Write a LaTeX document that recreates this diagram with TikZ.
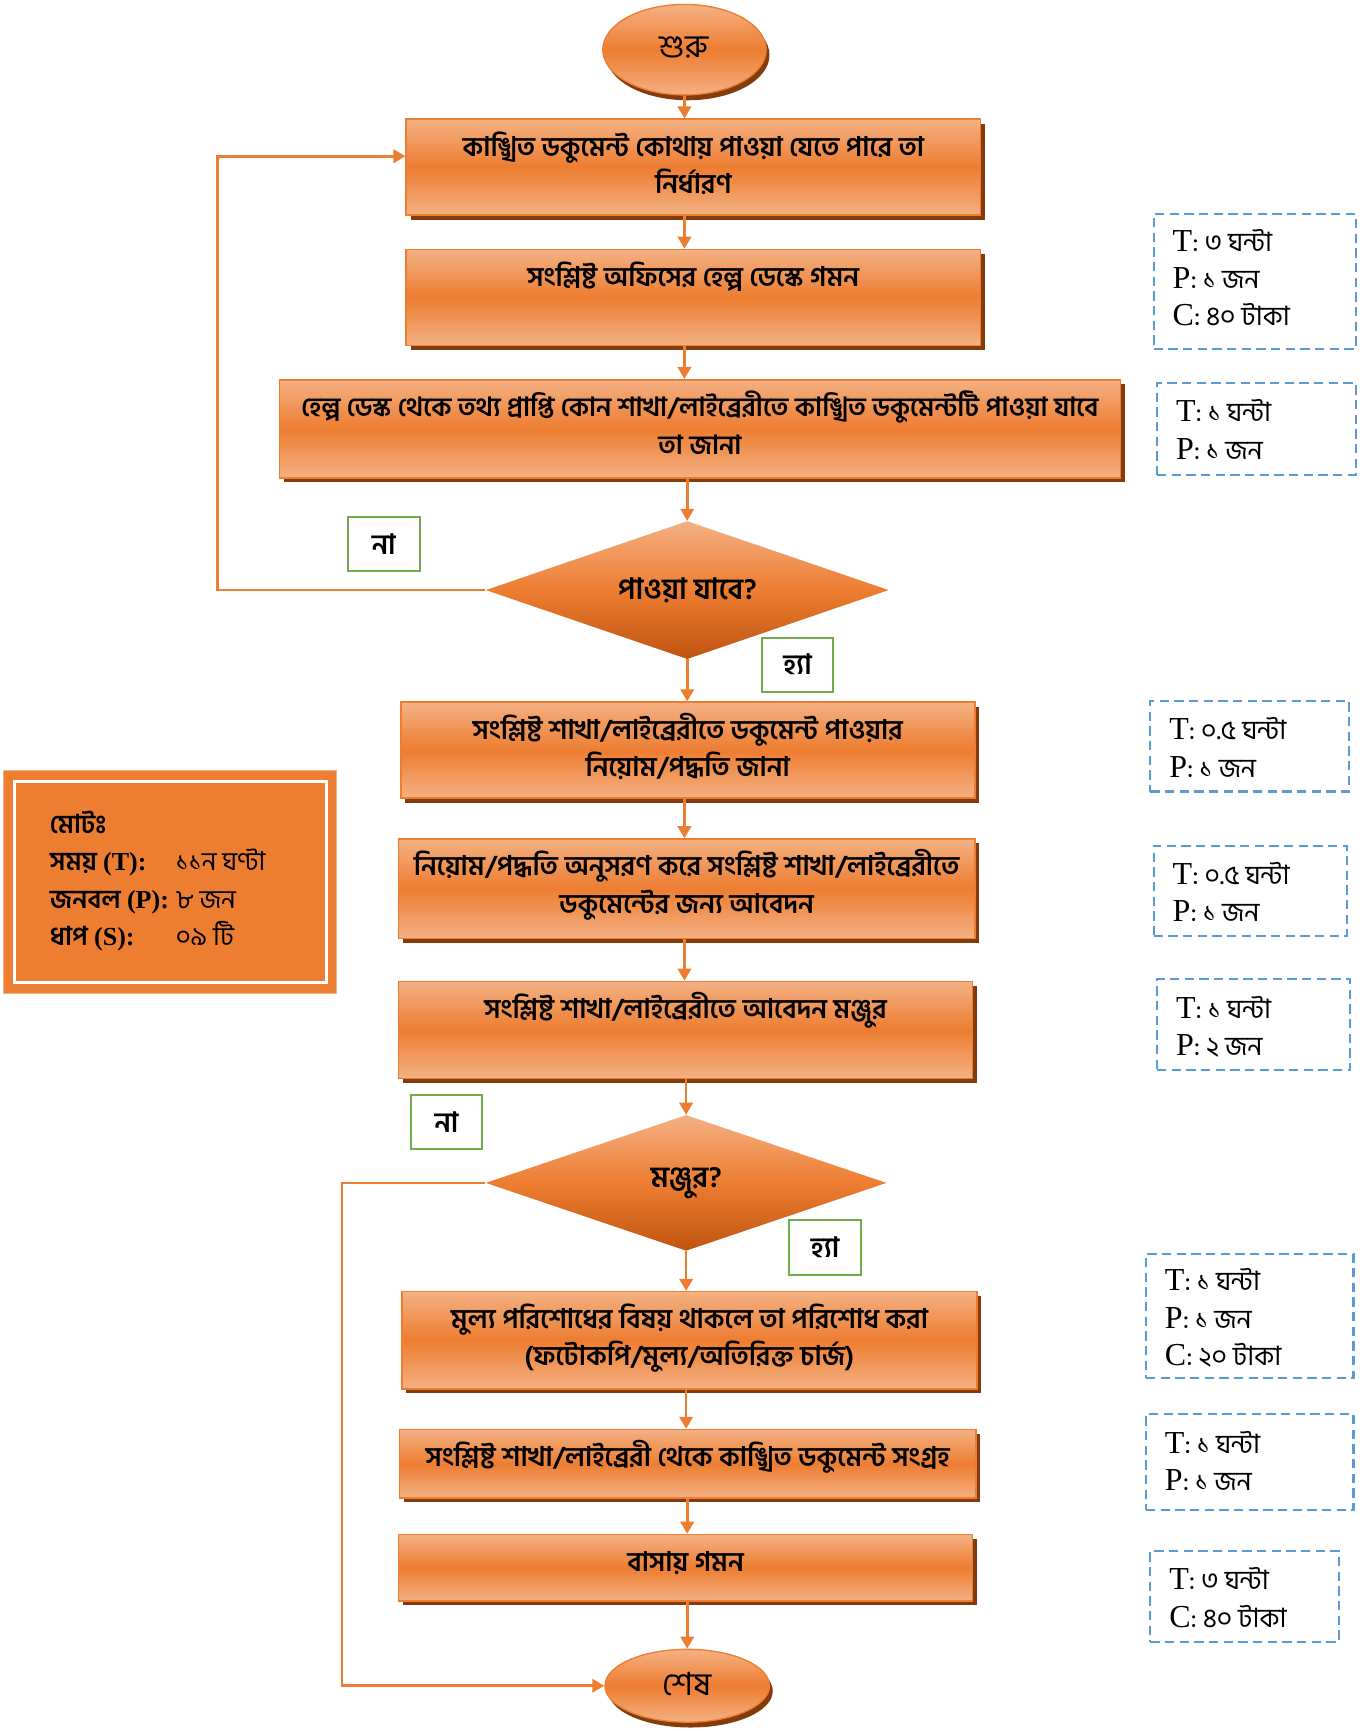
\documentclass[tikz,border=0pt]{standalone}
\usepackage{fontspec}
\setmainfont{Liberation Serif}
\newfontfamily\bn[Script=Bengali]{Hind Siliguri}
\newfontfamily\lat{Liberation Serif}
\usetikzlibrary{arrows.meta,shapes.geometric,shadows,fit}
\definecolor{orng}{HTML}{ED7D31}
\definecolor{lorng}{HTML}{F4B183}
\definecolor{dorng}{HTML}{BF5410}
\definecolor{shbrown}{HTML}{843C0C}
\definecolor{grn}{HTML}{70AD47}
\definecolor{blu}{HTML}{5B9BD5}
\newdimen\Upx \Upx=0.828pt
\newcommand\bsm{\bn\fontsize{20}{28}\selectfont}
\tikzset{
  procbox/.style={rectangle, draw=orng, line width=1.2pt, top color=lorng, bottom color=lorng, middle color=orng,
    drop shadow={shadow xshift=3.3pt, shadow yshift=-3.3pt, fill=shbrown, opacity=1}, inner sep=0pt},
  btxt/.style={font=\bn\bfseries\fontsize{20.3}{28}\selectfont, align=center, inner sep=0pt, anchor=base},
  decis/.style={diamond, shape aspect=2.92, inner sep=0pt, top color=lorng, bottom color=dorng, middle color=orng,
    font=\bn\bfseries\fontsize{22}{28}\selectfont},
  term/.style={ellipse, draw=orng, line width=1pt, top color=lorng, bottom color=lorng, middle color=orng,
    drop shadow={shadow xshift=2.5pt, shadow yshift=-4pt, fill=shbrown, opacity=1}, inner sep=0pt,
    font=\bn\fontsize{24}{28}\selectfont},
  lbl/.style={rectangle, draw=grn, line width=1.5pt, fill=white, minimum width=65\Upx, minimum height=49\Upx,
    inner sep=0pt, font=\bn\bfseries\fontsize{21}{24}\selectfont},
  ibox/.style={rectangle, draw=blu, line width=1.6pt, dash pattern=on 7pt off 4pt, inner sep=0pt},
  itxt/.style={align=left, inner sep=0pt, anchor=base west, font=\lat\fontsize{24}{28}\selectfont},
  arr/.style={draw=orng, line width=2pt, -{Triangle[length=9pt,width=10pt]}},
}
\begin{document}
\begin{tikzpicture}[x=0.828pt,y=-0.828pt]
\useasboundingbox (0,0) rectangle (1238,1568);

% terminals
\node[term, minimum width=148\Upx, minimum height=82\Upx, text depth=4pt] (s) at (620,45) {শুরু};
\node[term, minimum width=149\Upx, minimum height=66\Upx, text depth=3pt] (e) at (622.5,1527) {শেষ};

% process boxes
\node[procbox, fit={(368,108) (888,195)}] (b1) {};
\node[procbox, fit={(368,226) (888,313)}] (b2) {};
\node[procbox, fit={(253,344) (1015,433)}] (b3) {};
\node[procbox, fit={(363,636) (883,723)}] (b4) {};
\node[procbox, fit={(361,760) (883,850)}] (b5) {};
\node[procbox, fit={(361,889) (881,977)}] (b6) {};
\node[procbox, fit={(364,1170) (885,1258)}] (b7) {};
\node[procbox, fit={(362,1295) (884,1357)}] (b8) {};
\node[procbox, fit={(361,1390) (881,1450)}] (b9) {};

\node[btxt] (t1) at ([yshift=-68\Upx]b1.north) {কাঙ্খিত ডকুমেন্ট কোথায় পাওয়া যেতে পারে তা\\ নির্ধারণ};
\node[btxt] (t2) at ([yshift=-34\Upx]b2.north) {সংশ্লিষ্ট অফিসের হেল্প ডেস্কে গমন};
\node[btxt, font=\bn\bfseries\fontsize{19.8}{28}\selectfont] (t3) at ([yshift=-68\Upx]b3.north) {হেল্প ডেস্ক থেকে তথ্য প্রাপ্তি কোন শাখা/লাইব্রেরীতে কাঙ্খিত ডকুমেন্টটি পাওয়া যাবে\\ তা জানা};
\node[btxt] (t4) at ([yshift=-68\Upx]b4.north) {সংশ্লিষ্ট শাখা/লাইব্রেরীতে ডকুমেন্ট পাওয়ার\\ নিয়োম/পদ্ধতি জানা};
\node[btxt] (t5) at ([yshift=-68\Upx]b5.north) {নিয়োম/পদ্ধতি অনুসরণ করে সংশ্লিষ্ট শাখা/লাইব্রেরীতে\\ ডকুমেন্টের জন্য আবেদন};
\node[btxt] (t6) at ([yshift=-34\Upx]b6.north) {সংশ্লিষ্ট শাখা/লাইব্রেরীতে আবেদন মঞ্জুর};
\node[btxt] (t7) at ([yshift=-68\Upx]b7.north) {মুল্য পরিশোধের বিষয় থাকলে তা পরিশোধ করা\\ (ফটোকপি/মুল্য/অতিরিক্ত চার্জ)};
\node[btxt] (t8) at ([yshift=-34\Upx]b8.north) {সংশ্লিষ্ট শাখা/লাইব্রেরী থেকে কাঙ্খিত ডকুমেন্ট সংগ্রহ};
\node[btxt] (t9) at ([yshift=-34\Upx]b9.north) {বাসায় গমন};

% decisions
\node[decis, minimum width=365\Upx, minimum height=125\Upx] (d1) at (622.5,534.5) {পাওয়া যাবে?};
\node[decis, minimum width=363\Upx, minimum height=123\Upx] (d2) at (621.5,1071.5) {মঞ্জুর?};

% yes/no labels
\node[lbl] (n1) at (347.5,492.5) {না};
\node[lbl] (y1) at (722.5,602) {হ্যা};
\node[lbl] (n2) at (404.5,1016.5) {না};
\node[lbl] (y2) at (747.5,1130) {হ্যা};

% connectors
\draw[arr] (s.south) -- (s.south |- b1.north);
\draw[arr] (b1.south -| s.south) -- (b2.north -| s.south);
\draw[arr] (b2.south -| s.south) -- (b3.north -| s.south);
\draw[arr] (b3.south -| d1.north) -- (d1.north);
\draw[arr] (d1.south) -- (d1.south |- b4.north);
\draw[arr] (b4.south -| s.south) -- (b5.north -| s.south);
\draw[arr] (b5.south -| s.south) -- (b6.north -| s.south);
\draw[arr] (b6.south -| d2.north) -- (d2.north);
\draw[arr] (d2.south) -- (d2.south |- b7.north);
\draw[arr] (b7.south -| d2.south) -- (b8.north -| d2.south);
\draw[arr] (b8.south -| e.north) -- (b9.north -| e.north);
\draw[arr] (b9.south -| e.north) -- (e.north);
\draw[arr] (d1.west) -- ++(-243,0) |- ([yshift=10\Upx]b1.west);
\draw[arr] (d2.west) -- ++(-130,0) |- (e.west);

% info boxes
\node[ibox, fit={(1045,194) (1228,316)}] (i1) {};
\node[itxt] (i1t) at ([shift={(18\Upx,-102\Upx)}]i1.north west) {T{\bsm: ৩ ঘন্টা}\\ P{\bsm: ১ জন}\\ C{\bsm: ৪০ টাকা}};
\node[ibox, fit={(1048,347) (1228,430)}] (i2) {};
\node[itxt] (i2t) at ([shift={(18\Upx,-70\Upx)}]i2.north west) {T{\bsm: ১ ঘন্টা}\\ P{\bsm: ১ জন}};
\node[ibox, fit={(1042,635) (1222,717)}] (i3) {};
\node[itxt] (i3t) at ([shift={(18\Upx,-70\Upx)}]i3.north west) {T{\bsm: ০.৫ ঘন্টা}\\ P{\bsm: ১ জন}};
\node[ibox, fit={(1045,766) (1220,848)}] (i4) {};
\node[itxt] (i4t) at ([shift={(18\Upx,-70\Upx)}]i4.north west) {T{\bsm: ০.৫ ঘন্টা}\\ P{\bsm: ১ জন}};
\node[ibox, fit={(1048,887) (1223,969)}] (i5) {};
\node[itxt] (i5t) at ([shift={(18\Upx,-70\Upx)}]i5.north west) {T{\bsm: ১ ঘন্টা}\\ P{\bsm: ২ জন}};
\node[ibox, fit={(1038,1136) (1226,1248)}] (i6) {};
\node[itxt] (i6t) at ([shift={(18\Upx,-102\Upx)}]i6.north west) {T{\bsm: ১ ঘন্টা}\\ P{\bsm: ১ জন}\\ C{\bsm: ২০ টাকা}};
\node[ibox, fit={(1038,1281) (1226,1368)}] (i7) {};
\node[itxt] (i7t) at ([shift={(18\Upx,-70\Upx)}]i7.north west) {T{\bsm: ১ ঘন্টা}\\ P{\bsm: ১ জন}};
\node[ibox, fit={(1042,1405) (1213,1487)}] (i8) {};
\node[itxt] (i8t) at ([shift={(18\Upx,-70\Upx)}]i8.north west) {T{\bsm: ৩ ঘন্টা}\\ C{\bsm: ৪০ টাকা}};

% totals box
\node[rectangle, fill=orng, draw=lorng, line width=1pt, inner sep=0pt, fit={(3,698) (305,900)}] (tot) {};
\node[rectangle, draw=white, line width=2.5pt, inner sep=0pt, fit={(13,708) (296,890)}] (totin) {};
\node[anchor=base west, inner sep=0pt, font=\bn\fontsize{19.5}{28}\selectfont] (tott) at (45,755)
  {\begin{tabular}[t]{@{}p{114\Upx}@{}l@{}}
   {\bfseries মোটঃ} & \\
   {\bfseries সময় {\lat(T):}} & ১১ন ঘণ্টা\\
   {\bfseries জনবল {\lat(P):}} & ৮ জন\\
   {\bfseries ধাপ {\lat(S):}} & ০৯ টি
  \end{tabular}};
\end{tikzpicture}
\end{document}
